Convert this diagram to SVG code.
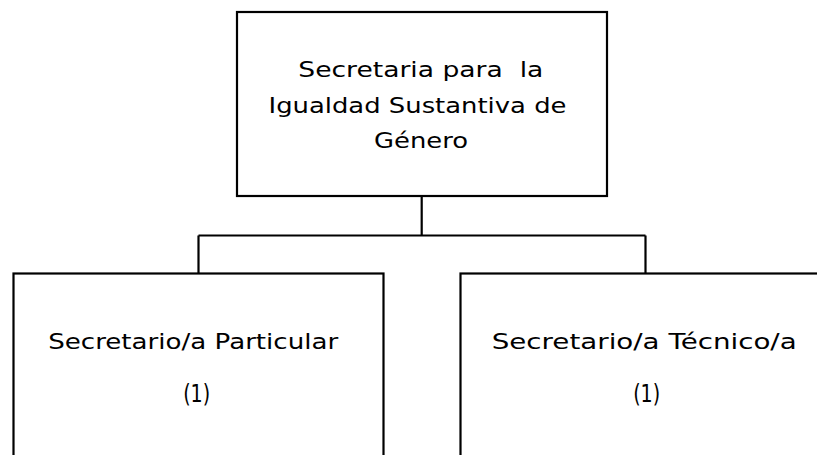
<svg xmlns="http://www.w3.org/2000/svg" width="817" height="455" viewBox="0 0 817 455">
<style>
.box{fill:#fff;stroke:#000;stroke-width:2.2}
.conn{fill:none;stroke:#000;stroke-width:2.2}
text{font-family:"DejaVu Sans","Open Sans",sans-serif;font-size:21.5px;fill:#000;text-anchor:middle}
.num{font-size:25px}
</style>
<rect width="817" height="455" fill="#fff"/>
<g id="connectors">
<path class="conn" d="M421.7 196 V235.5 M198.5 235.5 H645.5 M198.5 235.5 V273.5 M645.5 235.5 V273.5"/>
</g>
<g id="node-secretaria">
<rect class="box" x="237" y="12" width="370" height="184"/>
<text x="420.8" y="77" textLength="245" lengthAdjust="spacingAndGlyphs">Secretaria para&#160; la</text>
<text x="417.5" y="112.5" textLength="298" lengthAdjust="spacingAndGlyphs">Igualdad Sustantiva de</text>
<text x="421" y="148" textLength="94" lengthAdjust="spacingAndGlyphs">Género</text>
</g>
<g id="node-particular">
<rect class="box" x="13.5" y="273.5" width="370" height="200"/>
<text x="193.2" y="349" textLength="290" lengthAdjust="spacingAndGlyphs">Secretario/a Particular</text>
<text class="num" x="196.7" y="401.5" textLength="27" lengthAdjust="spacingAndGlyphs">(1)</text>
</g>
<g id="node-tecnico">
<rect class="box" x="460.5" y="273.5" width="370" height="200"/>
<text x="644.2" y="349" textLength="305" lengthAdjust="spacingAndGlyphs">Secretario/a Técnico/a</text>
<text class="num" x="646.7" y="401.5" textLength="27" lengthAdjust="spacingAndGlyphs">(1)</text>
</g>
</svg>
